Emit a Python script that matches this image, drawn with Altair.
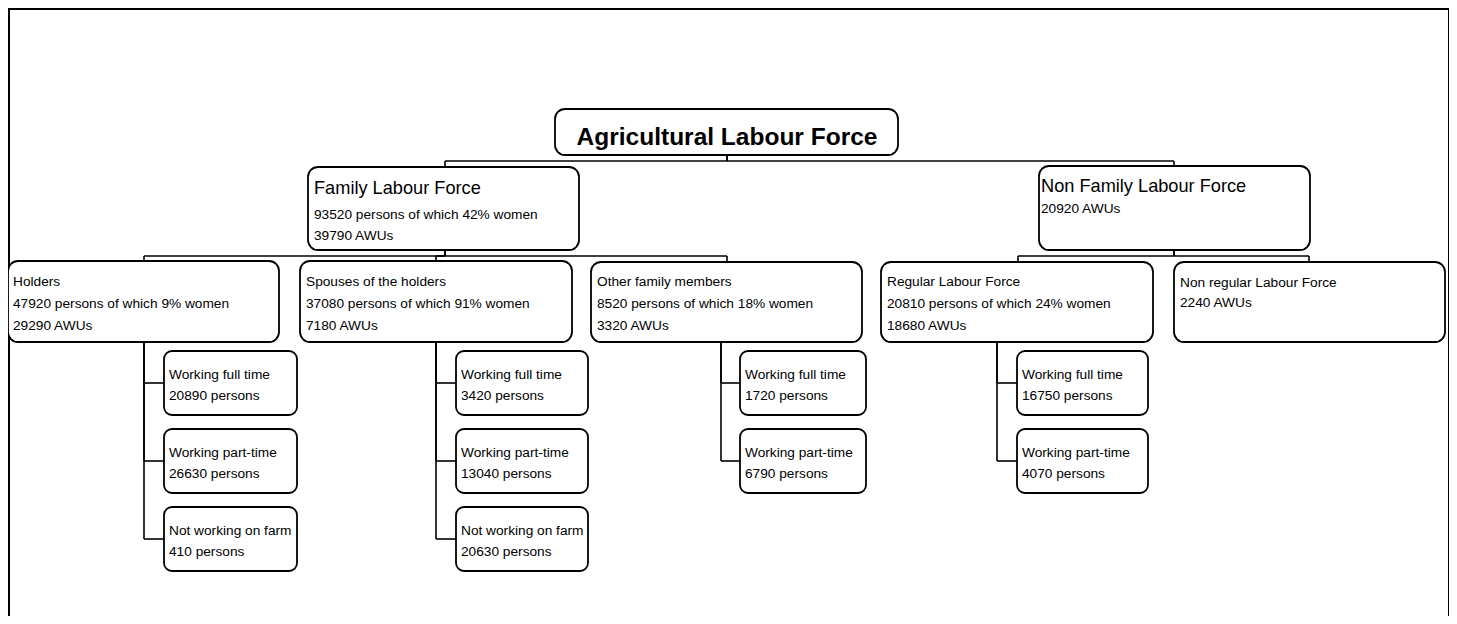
import altair as alt
import pandas as pd

# ---------------- content ----------------
node_ids = ["root", "family", "nonfamily",
            "holders", "spouses", "other", "regular", "nonregular",
            "h_full", "h_part", "h_not",
            "s_full", "s_part", "s_not",
            "o_full", "o_part",
            "r_full", "r_part"]
node_titles = ["Agricultural Labour Force", "Family Labour Force", "Non Family Labour Force",
               "Holders", "Spouses of the holders", "Other family members",
               "Regular Labour Force", "Non regular Labour Force",
               "Working full time", "Working part-time", "Not working on farm",
               "Working full time", "Working part-time", "Not working on farm",
               "Working full time", "Working part-time",
               "Working full time", "Working part-time"]
node_parent = [None, "root", "root",
               "family", "family", "family", "nonfamily", "nonfamily",
               "holders", "holders", "holders",
               "spouses", "spouses", "spouses",
               "other", "other",
               "regular", "regular"]
persons = [None, 93520, None,
           47920, 37080, 8520, 20810, None,
           20890, 26630, 410,
           3420, 13040, 20630,
           1720, 6790,
           16750, 4070]
women_pct = [None, 42, None,
             9, 91, 18, 24, None,
             None, None, None,
             None, None, None,
             None, None,
             None, None]
awus = [None, 39790, 20920,
        29290, 7180, 3320, 18680, 2240,
        None, None, None,
        None, None, None,
        None, None,
        None, None]

# ---------------- layout (page pixel coordinates) ----------------
box_x0 = [555, 308, 1039, 8, 300, 591, 881, 1174,
          164, 164, 164, 456, 456, 456, 740, 740, 1017, 1017]
box_x1 = [898, 579, 1310, 279, 572, 862, 1153, 1445,
          297, 297, 297, 588, 588, 588, 866, 866, 1148, 1148]
box_y0 = [109, 167, 166, 261, 261, 262, 262, 262,
          351, 429, 507, 351, 429, 507, 351, 429, 351, 429]
box_y1 = [155, 250, 250, 342, 342, 342, 342, 342,
          415, 493, 571, 415, 493, 571, 415, 493, 415, 493]
anchor_x = [727, 445, 1174, 144, 436, 727, 1018, 1309,
            None, None, None, None, None, None, None, None, None, None]
bus_y = {"root": 161, "family": 256, "nonfamily": 256}
side_x = {"holders": 144, "spouses": 436, "other": 721, "regular": 997}
text_x = [727, 314, 1041, 13, 306, 597, 887, 1180,
          169, 169, 169, 461, 461, 461, 745, 745, 1022, 1022]
line_baselines = {
    "root": [145],
    "family": [194, 219, 240],
    "nonfamily": [192, 213],
    "holders": [286, 308, 330], "spouses": [286, 308, 330],
    "other": [286, 308, 330], "regular": [286, 308, 330],
    "nonregular": [287, 307],
}

idx = {n: i for i, n in enumerate(node_ids)}

# ---------------- tables ----------------
boxes = pd.DataFrame({
    "id": node_ids, "x0": box_x0, "x1": box_x1, "y0": box_y0, "y1": box_y1,
    "level": [0, 1, 1, 2, 2, 2, 2, 2] + [3] * 10,
})

segs = []
for i, n in enumerate(node_ids):
    p = node_parent[i]
    if p is None:
        continue
    pi = idx[p]
    if p in bus_y:
        by = bus_y[p]
        segs.append((anchor_x[pi], box_y1[pi], anchor_x[pi], by))
        segs.append((anchor_x[pi], by, anchor_x[i], by))
        segs.append((anchor_x[i], by, anchor_x[i], box_y0[i]))
    else:
        sx = side_x[p]
        my = (box_y0[i] + box_y1[i]) / 2
        segs.append((sx, box_y1[pi], sx, my))
        segs.append((sx, my, box_x0[i], my))
lines_df = pd.DataFrame(segs, columns=["xa", "ya", "xb", "yb"])

texts = []
for i, n in enumerate(node_ids):
    rows = [node_titles[i]]
    if women_pct[i] is not None:
        rows.append(f"{persons[i]} persons of which {women_pct[i]}% women")
    elif persons[i] is not None:
        rows.append(f"{persons[i]} persons")
    if awus[i] is not None:
        rows.append(f"{awus[i]} AWUs")
    if n in line_baselines:
        bl = line_baselines[n]
    else:
        bl = [box_y0[i] + 28, box_y0[i] + 49]
    for k, r in enumerate(rows):
        if n == "root":
            kind = "root"
        elif n in ("family", "nonfamily") and k == 0:
            kind = "title"
        else:
            kind = "body"
        texts.append({"x": text_x[i], "y": bl[k], "t": r, "kind": kind})
text_df = pd.DataFrame(texts)

frame_df = pd.DataFrame({"x0": [9], "x1": [1449], "y0": [9], "y1": [640]})

X = alt.Scale(domain=[8, 1449], nice=False, zero=False)
Y = alt.Scale(domain=[8, 616], nice=False, zero=False, reverse=True)
FONT = "Liberation Sans, Arial, sans-serif"

frame = alt.Chart(frame_df).mark_rect(fill="white", stroke="black", strokeWidth=2).encode(
    x=alt.X("x0:Q", scale=X, axis=None), x2="x1:Q",
    y=alt.Y("y0:Q", scale=Y, axis=None), y2="y1:Q")

conn = alt.Chart(lines_df).mark_rule(color="black", strokeWidth=1.6).encode(
    x=alt.X("xa:Q", scale=X, axis=None), x2="xb:Q",
    y=alt.Y("ya:Q", scale=Y, axis=None), y2="yb:Q")

big = alt.Chart(boxes).transform_filter("datum.level < 3").mark_rect(
    fill="white", stroke="black", strokeWidth=1.8, cornerRadius=10).encode(
    x=alt.X("x0:Q", scale=X, axis=None), x2="x1:Q",
    y=alt.Y("y0:Q", scale=Y, axis=None), y2="y1:Q")

small = alt.Chart(boxes).transform_filter("datum.level == 3").mark_rect(
    fill="white", stroke="black", strokeWidth=1.8, cornerRadius=8).encode(
    x=alt.X("x0:Q", scale=X, axis=None), x2="x1:Q",
    y=alt.Y("y0:Q", scale=Y, axis=None), y2="y1:Q")

def text_layer(kind, size, weight, align):
    return alt.Chart(text_df).transform_filter(f"datum.kind == '{kind}'").mark_text(
        font=FONT, fontSize=size, fontWeight=weight, align=align,
        baseline="alphabetic", color="black").encode(
        x=alt.X("x:Q", scale=X, axis=None),
        y=alt.Y("y:Q", scale=Y, axis=None),
        text="t:N")

chart = alt.layer(
    frame, conn, big, small,
    text_layer("root", 24.5, "bold", "center"),
    text_layer("title", 18.2, "normal", "left"),
    text_layer("body", 13.7, "normal", "left"),
).properties(
    width=1441, height=608, padding=0, autosize="none",
    background="white",
).configure_view(stroke=None)

chart.save("out.html", embed_options={"renderer": "svg", "actions": False})
